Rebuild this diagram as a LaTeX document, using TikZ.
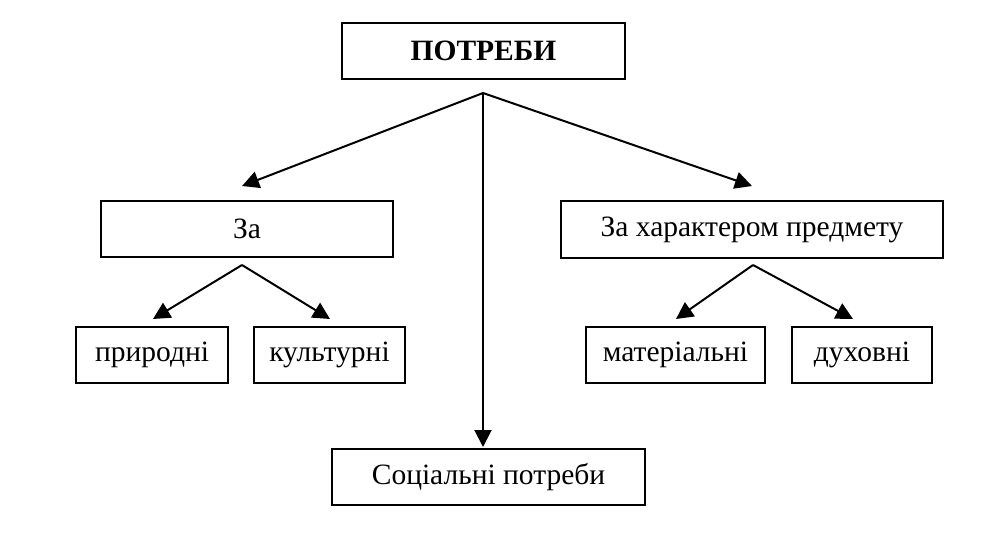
\documentclass[tikz,border=0pt]{standalone}
\usepackage{fontspec}
\setmainfont{Liberation Serif}
\usetikzlibrary{arrows.meta}
\begin{document}
\begin{tikzpicture}[x=1pt,y=-1pt,
  box/.style={draw,line width=2pt,inner sep=0pt,minimum height=56pt,
    font=\fontsize{29.5}{31}\selectfont},
  arr/.style={line width=2pt,-{Triangle[length=17pt,width=17pt]}}]
\useasboundingbox[fill=white] (0,0) rectangle (1002,539);
\node[box,minimum width=283pt,font=\fontsize{29.5}{31}\selectfont\bfseries] (top) at (483.5,51) {ПОТРЕБИ};
\node[box,minimum width=292pt] (za) at (247,229) {За};
\node[box,minimum width=382pt,minimum height=57pt] (zh) at (752,229.5) {За характером предмету};
\node[box,minimum width=152pt] (pr) at (152,355) {природні};
\node[box,minimum width=151pt] (ku) at (329.5,355) {культурні};
\node[box,minimum width=179pt] (ma) at (675.5,355) {матеріальні};
\node[box,minimum width=140pt] (du) at (862,355) {духовні};
\node[box,minimum width=313pt] (so) at (488.5,477) {Соціальні потреби};
\coordinate (a0) at (483,93);
\coordinate (a1) at (242,265);
\coordinate (a2) at (753,265);
\coordinate (t1) at (242,186);
\coordinate (t2) at (752,186);
\coordinate (t3) at (483,447);
\coordinate (t4) at (153,319);
\coordinate (t5) at (330,319);
\coordinate (t6) at (676,319);
\coordinate (t7) at (853,319);
\draw[arr] (a0) -- (t1);
\draw[arr] (a0) -- (t2);
\draw[arr] (a0) -- (t3);
\draw[arr] (a1) -- (t4);
\draw[arr] (a1) -- (t5);
\draw[arr] (a2) -- (t6);
\draw[arr] (a2) -- (t7);
\end{tikzpicture}
\end{document}
